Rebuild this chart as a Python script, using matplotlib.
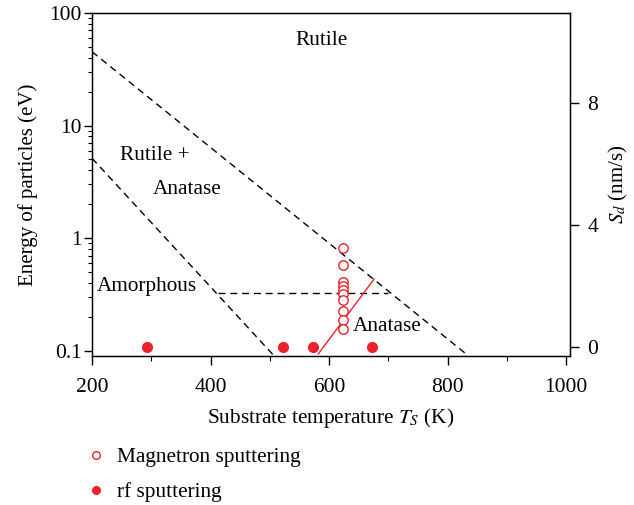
import matplotlib
matplotlib.use("Agg")
import matplotlib.pyplot as plt
from matplotlib.lines import Line2D
import numpy as np

plt.rcParams['font.family'] = ['Liberation Serif', 'DejaVu Serif']
plt.rcParams['mathtext.fontset'] = 'stix'
plt.rcParams['font.size'] = 15

RED = '#e8232b'
FS = 15.0
TICK_FS = 15.5

# Phase boundaries (substrate temperature in K, particle energy in eV)
boundary_upper_T = [200, 835]
boundary_upper_E = [45.3, 0.0903]
boundary_lower_T = [200, 507]
boundary_lower_E = [5.13, 0.0903]
boundary_mid_T = [413, 700]
boundary_mid_E = [0.324, 0.324]

# Deposition rate data (S_d in nm/s)
magnetron_T = [623] * 10
magnetron_Sd = [3.23, 2.68, 2.13, 2.00, 1.86, 1.73, 1.52, 1.18, 0.88, 0.57]
rf_T = [293, 523, 573, 673]
rf_Sd = [0, 0, 0, 0]
fit_T = [582, 676]
fit_Sd = [-0.24, 2.22]

# Region labels: (text, T, E, horizontal alignment)
region_labels = [
    ("Rutile", 588, 57, 'center'),
    ("Rutile +", 247, 5.4, 'left'),
    ("Anatase", 302, 2.68, 'left'),
    ("Amorphous", 208, 0.372, 'left'),
    ("Anatase", 640, 0.1626, 'left'),
]

fig = plt.figure(figsize=(6.34, 5.05), dpi=100)
ax = fig.add_axes([92/634, 1-355.7/505, (570-92)/634, (355.7-13)/505])

ax.set_yscale('log')
ax.set_xlim(200, 1006.7)
ax.set_ylim(0.0903, 100)

dash = dict(color='black', lw=1.0, dashes=(5, 3.5))
ax.plot(boundary_upper_T, boundary_upper_E, **dash)
ax.plot(boundary_lower_T, boundary_lower_E, **dash)
ax.plot(boundary_mid_T, boundary_mid_E, **dash)

for txt, t, e, ha in region_labels:
    ax.text(t, e, txt, ha=ha, va='center', fontsize=FS + 0.3)

ax.set_xticks([200, 400, 600, 800, 1000])
ax.set_xticks([300, 500, 700, 900], minor=True)
ax.set_yticks([0.1, 1, 10, 100])
ax.set_yticklabels(['0.1', '1', '10', '100'])
ax.tick_params(axis='x', which='major', direction='out', length=6.5, width=1, pad=9.5, labelsize=TICK_FS)
ax.tick_params(axis='x', which='minor', direction='out', length=3.5, width=0.8)
ax.tick_params(axis='y', which='major', direction='out', length=6, width=1, pad=1.5, labelsize=TICK_FS)
ax.tick_params(axis='y', which='minor', direction='out', length=3, width=0.8)
for s in ax.spines.values():
    s.set_linewidth(1.0)

ax.set_xlabel("Substrate temperature $T_S$ (K)", fontsize=FS + 0.3, labelpad=6.5)
ax.set_ylabel("Energy of particles (eV)", fontsize=FS, labelpad=8)

ax2 = ax.twinx()
ax2.set_ylim(-0.3, 10.97)
ax2.set_yticks([0, 4, 8])
ax2.tick_params(axis='y', direction='out', length=6.5, width=1, pad=6, labelsize=TICK_FS)
ax2.set_ylabel("$S_d$ (nm/s)", fontsize=FS, labelpad=6)

ax2.plot(fit_T, fit_Sd, color=RED, lw=1.0)
ax2.plot(magnetron_T, magnetron_Sd, 'o', ms=6.8, mfc='white', mec=RED, mew=1.0, ls='none')
ax2.plot(rf_T, rf_Sd, 'o', ms=7, mfc=RED, mec=RED, ls='none')

handles = [
    Line2D([], [], marker='o', ms=5.5, mfc='white', mec=RED, mew=1.0, ls='none'),
    Line2D([], [], marker='o', ms=5.5, mfc=RED, mec=RED, ls='none'),
]
fig.legend(handles, ["Magnetron sputtering", "rf sputtering"],
           loc='upper left', bbox_to_anchor=(77/634, 1-439/505),
           frameon=False, fontsize=FS + 0.3, handlelength=1.0,
           handletextpad=0.5, labelspacing=0.7, borderaxespad=0)

fig.savefig("out.png", dpi=100)
